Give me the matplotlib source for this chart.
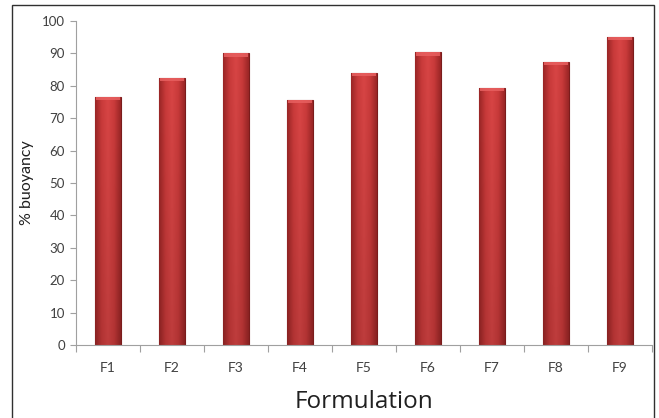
import numpy as np
import matplotlib
matplotlib.use("Agg")
import matplotlib.pyplot as plt
from matplotlib.patches import Rectangle
from matplotlib.colors import LinearSegmentedColormap

# --- data ---
formulations = ["F1", "F2", "F3", "F4", "F5", "F6", "F7", "F8", "F9"]
buoyancy = [76.6, 82.5, 90.0, 75.6, 84.0, 90.3, 79.3, 87.3, 95.2]

plt.rcParams['font.family'] = ['Lato', 'DejaVu Sans']

fig = plt.figure(figsize=(6.59, 4.18), dpi=100)
ax = fig.add_axes([0.1153, 0.1746, 0.874, 0.7752])

x = np.arange(len(formulations))
bars = ax.bar(x, buoyancy, width=0.4, color='#c83a3a', edgecolor='#7a1c1c',
              linewidth=0.8, zorder=2)

# cylinder-ish shading, clipped to each bar
shade = LinearSegmentedColormap.from_list(
    "shade", ["#9a2626", "#c93a3a", "#d84545", "#c93a3a", "#9a2626"])
horiz = np.linspace(0, 1, 64)[None, :]
for b in bars:
    x0, w, h = b.get_x(), b.get_width(), b.get_height()
    vert = np.linspace(0.88, 1.0, 64)[:, None]
    img = shade(horiz)[None, 0, :, :3] * vert[:, :, None]
    im = ax.imshow(img, extent=[x0, x0 + w, 0, h], origin='lower',
                   aspect='auto', zorder=2.5, interpolation='bilinear')
    im.set_clip_path(b)
    # light cap on top
    ax.add_patch(Rectangle((x0 + 0.01, h - 1.0), w - 0.02, 1.0, facecolor='#e86060',
                           edgecolor='none', alpha=0.85, zorder=2.6))

ax.set_xlim(-0.5, len(formulations) - 0.5)
ax.set_ylim(0, 100)
ax.set_yticks(np.arange(0, 101, 10))
ax.set_xticks(x)
ax.set_xticklabels(formulations)
ax.set_xticks(np.arange(-0.5, len(formulations), 1), minor=True)
ax.tick_params(axis='x', which='major', length=0, pad=12, labelsize=10,
               labelcolor='#404040')
ax.tick_params(axis='x', which='minor', length=5, color='#a0a0a0',
               direction='out', width=0.8)
ax.tick_params(axis='y', length=4, color='#a0a0a0', width=0.8, pad=4,
               labelsize=9.5, labelcolor='#404040')

for s in ['top', 'right']:
    ax.spines[s].set_visible(False)
for s in ['left', 'bottom']:
    ax.spines[s].set_color('#a0a0a0')
    ax.spines[s].set_linewidth(0.8)

ax.set_ylabel("% buoyancy", fontsize=11.5, color='#202020', labelpad=6)
ax.set_xlabel("Formulation", fontsize=17.5, color='#202020',
              family=['Open Sans', 'DejaVu Sans'], labelpad=12)

# outer frame
fig.patches.append(Rectangle((12 / 659, -0.01), (654 - 12) / 659, 1 - 5 / 418 + 0.01,
                             transform=fig.transFigure, fill=False,
                             edgecolor='#303030', linewidth=1.0))

fig.savefig("out.png", dpi=100)
